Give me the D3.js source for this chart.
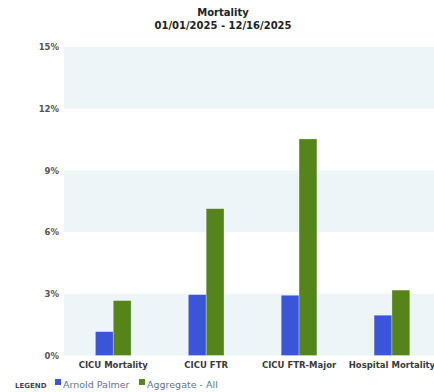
<!DOCTYPE html>
<html>
<head>
<meta charset="utf-8">
<script src="https://cdn.jsdelivr.net/npm/d3@7"></script>
<style>
  html, body { margin: 0; padding: 0; background: #fff; }
  svg { display: block; font-family: "DejaVu Sans", sans-serif; }
</style>
</head>
<body>
<svg id="chart" width="434" height="392"></svg>
<script>
// Mortality measures, in percent
const categories = ["CICU Mortality", "CICU FTR", "CICU FTR-Major", "Hospital Mortality"];
const seriesNames = ["Arnold Palmer", "Aggregate - All"];
const arnoldPalmer = [1.16, 2.96, 2.93, 1.96];
const aggregateAll = [2.67, 7.14, 10.53, 3.18];
const yTicks = [0, 3, 6, 9, 12, 15];
const seriesColors = ["#3b55d9", "#55851a"];

const svg = d3.select("#chart");
const W = 434;

const plotLeft = 64, plotRight = 434, plotTop = 47, plotBottom = 355.5;

const y = d3.scaleLinear().domain([0, 15]).range([plotBottom, plotTop]);
const x = d3.scaleBand().domain(categories).range([66.8, 438.4]).paddingInner(0).paddingOuter(0);
const xs = d3.scaleBand().domain(seriesNames).range([0, x.bandwidth()]).paddingInner(0).paddingOuter(1.6);

// Alternating background bands
const bands = d3.range(0, yTicks.length - 1).filter(i => i % 2 === 0);
svg.append("g").selectAll("rect").data(bands).join("rect")
  .attr("x", plotLeft)
  .attr("width", plotRight - plotLeft)
  .attr("y", i => y(yTicks[i + 1]))
  .attr("height", i => y(yTicks[i]) - y(yTicks[i + 1]))
  .attr("fill", "#eef5f8");

// Y axis labels
const yAxis = d3.axisLeft(y).tickValues(yTicks).tickFormat(d => d + "%").tickSize(0).tickPadding(5);
const yg = svg.append("g").attr("transform", `translate(${plotLeft},0)`).call(yAxis);
yg.select(".domain").remove();
yg.selectAll("text")
  .attr("font-family", "DejaVu Sans, sans-serif")
  .attr("font-size", 8.5).attr("font-weight", "bold").attr("fill", "#555");

// Bars
const rows = categories.map((c, i) => ({ cat: c, values: [arnoldPalmer[i], aggregateAll[i]] }));
const groups = svg.append("g").selectAll("g").data(rows).join("g")
  .attr("transform", d => `translate(${x(d.cat)},0)`);
groups.selectAll("rect")
  .data(d => d.values.map((v, j) => ({ name: seriesNames[j], v, j })))
  .join("rect")
  .attr("x", d => xs(d.name))
  .attr("width", xs.bandwidth())
  .attr("y", d => y(d.v))
  .attr("height", d => y(0) - y(d.v))
  .attr("fill", d => seriesColors[d.j])
  .attr("stroke", "#ffffff").attr("stroke-opacity", 0.5).attr("stroke-width", 0.6);

// X axis labels
const xAxis = d3.axisBottom(x).tickSize(0).tickPadding(6);
const xg = svg.append("g").attr("transform", `translate(0,${plotBottom})`).call(xAxis);
xg.select(".domain").remove();
xg.selectAll("text")
  .attr("font-family", "DejaVu Sans, sans-serif")
  .attr("font-size", 8.5).attr("font-weight", "bold").attr("fill", "#3a3a3a");

// Title
const title = svg.append("g").attr("text-anchor", "middle").attr("font-weight", "bold")
  .attr("font-size", 10).attr("fill", "#222");
title.append("text").attr("x", 223).attr("y", 16).text("Mortality");
title.append("text").attr("x", 223).attr("y", 28.5).text("01/01/2025 - 12/16/2025");

// Legend
const legend = svg.append("g");
legend.append("text").attr("x", 15).attr("y", 388)
  .attr("font-size", 7).attr("font-weight", "bold").attr("fill", "#3d4a5c")
  .text("LEGEND");
const legendX = [55, 139];
seriesNames.forEach((n, i) => {
  legend.append("rect").attr("x", legendX[i]).attr("y", 379).attr("width", 6).attr("height", 6)
    .attr("fill", seriesColors[i]);
  legend.append("text").attr("x", legendX[i] + 8).attr("y", 388)
    .attr("font-size", 9.5).attr("fill", "#66738a").text(n);
});
</script>
</body>
</html>
